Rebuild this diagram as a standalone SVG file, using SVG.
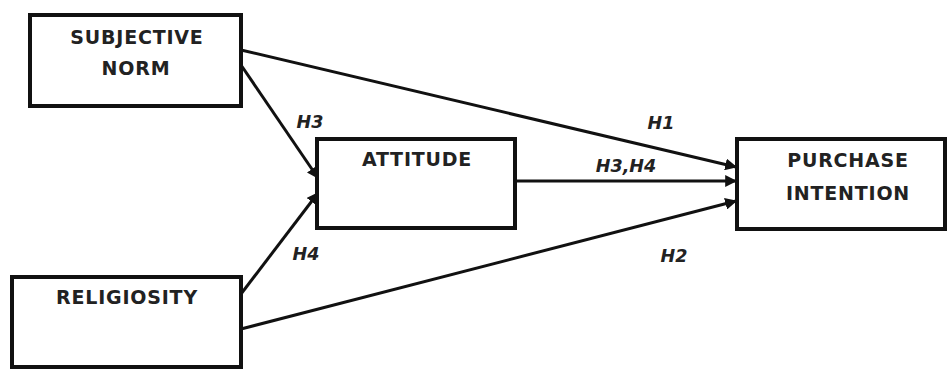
<svg xmlns="http://www.w3.org/2000/svg" width="947" height="369" viewBox="0 0 947 369">
<style>
.box{fill:#fff;stroke:#111;stroke-width:4}
.t{font-family:"DejaVu Sans","Liberation Sans",sans-serif;font-weight:bold;font-size:19px;letter-spacing:0.8px;fill:#222;text-anchor:middle}
.l{font-family:"DejaVu Sans","Liberation Sans",sans-serif;font-weight:bold;font-style:italic;font-size:17.5px;fill:#222;text-anchor:middle}
.c{stroke:#111;stroke-width:3;fill:none;marker-end:url(#ah)}
</style>
<defs>
<marker id="ah" viewBox="0 0 10 10" refX="9" refY="5" markerWidth="4" markerHeight="4" orient="auto" markerUnits="strokeWidth">
<path d="M0,0 L10,5 L0,10 z" fill="#111"/>
</marker>
</defs>
<rect width="947" height="369" fill="#fff"/>
<g id="connectors">
<line class="c" x1="241" y1="50" x2="736" y2="167"/>
<line class="c" x1="241" y1="65" x2="318" y2="178"/>
<line class="c" x1="241" y1="294" x2="318" y2="193"/>
<line class="c" x1="515" y1="181" x2="736" y2="181"/>
<line class="c" x1="241" y1="329" x2="736" y2="201"/>
<text class="l" x="310" y="128">H3</text>
<text class="l" x="306" y="260">H4</text>
<text class="l" x="661" y="129">H1</text>
<text class="l" x="626" y="172">H3,H4</text>
<text class="l" x="674" y="262">H2</text>
</g>
<g id="subjective-norm">
<rect class="box" x="30" y="15" width="211" height="91"/>
<text class="t" x="137" y="44">SUBJECTIVE</text>
<text class="t" x="136" y="75">NORM</text>
</g>
<g id="attitude">
<rect class="box" x="317" y="139" width="198" height="89"/>
<text class="t" x="417" y="166">ATTITUDE</text>
</g>
<g id="religiosity">
<rect class="box" x="12" y="277" width="229" height="90"/>
<text class="t" x="127" y="304">RELIGIOSITY</text>
</g>
<g id="purchase-intention">
<rect class="box" x="737" y="139" width="208" height="90"/>
<text class="t" x="848" y="167">PURCHASE</text>
<text class="t" x="848" y="200">INTENTION</text>
</g>
</svg>
